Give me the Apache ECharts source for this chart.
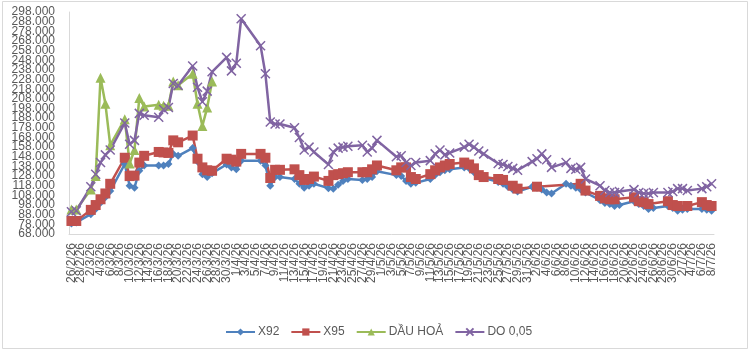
<!DOCTYPE html>
<html>
<head>
<meta charset="utf-8">
<script src="https://cdn.jsdelivr.net/npm/echarts@6/dist/echarts.min.js"></script>
<style>
html,body{margin:0;padding:0;background:#fff;}
#chart{width:750px;height:351px;}
</style>
</head>
<body>
<div id="chart"></div>
<script>
// All calendar days on the axis (labels every other day)
var categories = [
"26/2/26","27/2/26","28/2/26","1/3/26","2/3/26","3/3/26","4/3/26","5/3/26","6/3/26","7/3/26","8/3/26","9/3/26","10/3/26","11/3/26","12/3/26","13/3/26","14/3/26","15/3/26","16/3/26","17/3/26","18/3/26","19/3/26","20/3/26","21/3/26","22/3/26","23/3/26","24/3/26","25/3/26","26/3/26","27/3/26","28/3/26","29/3/26","30/3/26","31/3/26",
"1/4/26","2/4/26","3/4/26","4/4/26","5/4/26","6/4/26","7/4/26","8/4/26","9/4/26","10/4/26","11/4/26","12/4/26","13/4/26","14/4/26","15/4/26","16/4/26","17/4/26","18/4/26","19/4/26","20/4/26","21/4/26","22/4/26","23/4/26","24/4/26","25/4/26","26/4/26","27/4/26","28/4/26","29/4/26","30/4/26",
"1/5/26","2/5/26","3/5/26","4/5/26","5/5/26","6/5/26","7/5/26","8/5/26","9/5/26","10/5/26","11/5/26","12/5/26","13/5/26","14/5/26","15/5/26","16/5/26","17/5/26","18/5/26","19/5/26","20/5/26","21/5/26","22/5/26","23/5/26","24/5/26","25/5/26","26/5/26","27/5/26","28/5/26","29/5/26","30/5/26","31/5/26",
"1/6/26","2/6/26","3/6/26","4/6/26","5/6/26","6/6/26","7/6/26","8/6/26","9/6/26","10/6/26","11/6/26","12/6/26","13/6/26","14/6/26","15/6/26","16/6/26","17/6/26","18/6/26","19/6/26","20/6/26","21/6/26","22/6/26","23/6/26","24/6/26","25/6/26","26/6/26","27/6/26","28/6/26","29/6/26","30/6/26",
"1/7/26","2/7/26","3/7/26","4/7/26","5/7/26","6/7/26","7/7/26","8/7/26"
];

// Days that carry a price
var tradeDays = [
"26/2/26","27/2/26","2/3/26","3/3/26","4/3/26","5/3/26","6/3/26","9/3/26","10/3/26","11/3/26","12/3/26","13/3/26","16/3/26","17/3/26","18/3/26","19/3/26","20/3/26","23/3/26","24/3/26","25/3/26","26/3/26","27/3/26","30/3/26","31/3/26",
"1/4/26","2/4/26","6/4/26","7/4/26","8/4/26","9/4/26","10/4/26","13/4/26","14/4/26","15/4/26","16/4/26","17/4/26","20/4/26","21/4/26","22/4/26","23/4/26","24/4/26","27/4/26","28/4/26","29/4/26","30/4/26",
"4/5/26","5/5/26","6/5/26","7/5/26","8/5/26","11/5/26","12/5/26","13/5/26","14/5/26","15/5/26","18/5/26","19/5/26","20/5/26","21/5/26","22/5/26","25/5/26","26/5/26","27/5/26","28/5/26","29/5/26",
"1/6/26","2/6/26","3/6/26","4/6/26","5/6/26","8/6/26","9/6/26","10/6/26","11/6/26","12/6/26","15/6/26","16/6/26","17/6/26","18/6/26","19/6/26","22/6/26","23/6/26","24/6/26","25/6/26","26/6/26","29/6/26","30/6/26",
"1/7/26","2/7/26","3/7/26","6/7/26","7/7/26","8/7/26"
];

var x92 = [79,80,88.5,94,100.5,106,112.5,140.5,118,116,133.5,139,139,139,140.5,151,149,157,143,130,127,131,140,137,
135,144,144,139,118,127,127,125,120,116,118,120,115.5,115,119,123,125,124,125,127,133,
129,128,123,120,121,125,129,132,134,135,137,136,132,128,126,122,120,117,114,112,
117,116,114,111,110,120,118,116,114,111,103,100,99,97,98,102,99,97,94,95,97,95,
92,93,94,94,93,92];

var x95 = [81.5,81.5,93,98,104,110,120,147,128,128.5,142,149,153,152.5,152,165,163,170,146,137,134,133.5,146,145,
143,151,151,147,126,134.5,134.5,135,129,124,125,127.5,123,129,130,131,132,132,132,135,139,
134,137,137,127,125,130,134,137,139,140.5,142,140,136,129,127,125,124,null,118,115,
null,117,null,null,null,null,null,null,120,113,107.5,105,104,104,null,106,102,101,99,null,102,98,
97,null,97,101,98,97];

var dauHoa = [93.5,93.5,114,128,230,203,160,187,141,155,209,200,202,201,201,226,222,234,203,180,199,226,null,null,
null,null,null,null,null,null,null,null,null,null,null,null,null,null,null,null,null,null,null,null,null,
null,null,null,null,null,null,null,null,null,null,null,null,null,null,null,null,null,null,null,null,
null,null,null,null,null,null,null,null,null,null,null,null,null,null,null,null,null,null,null,null,null,null,
null,null,null,null,null,null];

var do005 = [91,92,117,130,142,150,155,183,161,165,193,191,189,197,199,224,222,242,220,205,216,236,251,237,
245,291,263,234,184,182,182,178,168,155,158,153,140,153,157,158,159,160,153,157,165,
148,149,142,139,142,144,151,155,150,152,158,161,158,154,151,141,140,138,136,134,
143,146,151,145,137,142,136,135,137,125,118,113,111,111,112,114,111,110,110,111,111,112,
115,115,113,115,117,120];

var seriesNames = ["X92","X95","DẦU HOẢ","DO 0,05"];
var yTicks = {min:68, max:298, step:10};

function pairs(vals){
  var out=[];
  for(var k=0;k<tradeDays.length;k++){
    if(vals[k]!==null && vals[k]!==undefined) out.push([tradeDays[k], vals[k]]);
  }
  return out;
}

var font = "'Liberation Sans', Arial, sans-serif";
var txt = '#595959';
var firstCat = categories[0], lastCat = categories[categories.length-1];

var xLabelBase = {interval:1,rotate:90,color:txt,fontSize:12,fontFamily:font,margin:9,hideOverlap:false};
var yLabelBase = {color:txt,fontSize:12,fontFamily:font,margin:14,hideOverlap:false};

var chart = echarts.init(document.getElementById('chart'), null, {renderer:'canvas'});
chart.setOption({
  animation:false,
  backgroundColor:'#ffffff',
  textStyle:{fontFamily:font},
  graphic:[{type:'rect',shape:{x:2.5,y:1.5,width:745,height:347},style:{fill:'none',stroke:'#d9d9d9',lineWidth:1},silent:true,z:-1}],
  grid:{left:69,right:36,top:12,bottom:117,containLabel:false},
  legend:{
    data:seriesNames,
    left:220, top:321,
    itemWidth:29, itemHeight:9, itemGap:11,
    textStyle:{color:txt,fontSize:12,fontFamily:font,padding:[0,0,0,-2]}
  },
  xAxis:[{
    type:'category', position:'bottom',
    data:categories,
    boundaryGap:true,
    axisLine:{show:true,lineStyle:{color:'#d9d9d9',width:1}},
    axisTick:{show:false},
    splitLine:{show:false},
    axisLabel:Object.assign({showMinLabel:false,showMaxLabel:false}, xLabelBase)
  },{
    type:'category', position:'bottom',
    data:categories,
    boundaryGap:true,
    axisLine:{show:false},
    axisTick:{show:false},
    splitLine:{show:false},
    axisLabel:Object.assign({showMinLabel:true,showMaxLabel:true,
      formatter:function(v){return (v===firstCat||v===lastCat)?v:'';}}, xLabelBase)
  }],
  yAxis:[{
    type:'value', position:'left',
    min:yTicks.min,max:yTicks.max,interval:yTicks.step,
    axisLine:{show:true,lineStyle:{color:'#d9d9d9',width:1}},
    axisTick:{show:false},
    splitLine:{show:false},
    axisLabel:Object.assign({showMinLabel:false,showMaxLabel:false,
      formatter:function(v){return v.toFixed(3);}}, yLabelBase)
  },{
    type:'value', position:'left',
    min:yTicks.min,max:yTicks.max,interval:yTicks.step,
    axisLine:{show:false},
    axisTick:{show:false},
    splitLine:{show:false},
    axisLabel:Object.assign({showMinLabel:true,showMaxLabel:true,
      formatter:function(v){return (v===yTicks.min||v===yTicks.max)?v.toFixed(3):'';}}, yLabelBase)
  }],
  series:[
    {name:seriesNames[0],type:'line',data:pairs(x92),symbol:'diamond',symbolSize:8,showAllSymbol:true,
     color:'#4F81BD',lineStyle:{width:2.5,color:'#4F81BD'},itemStyle:{color:'#4F81BD'}},
    {name:seriesNames[1],type:'line',data:pairs(x95),symbol:'rect',symbolSize:10,showAllSymbol:true,
     color:'#C0504D',lineStyle:{width:2.5,color:'#C0504D'},itemStyle:{color:'#C0504D'}},
    {name:seriesNames[2],type:'line',data:pairs(dauHoa),symbol:'triangle',symbolSize:10,showAllSymbol:true,
     color:'#9BBB59',lineStyle:{width:2.5,color:'#9BBB59'},itemStyle:{color:'#9BBB59'}},
    {name:seriesNames[3],type:'line',data:pairs(do005),symbol:'path://M0,0L10,10M10,0L0,10',symbolSize:9,showAllSymbol:true,
     color:'#8064A2',lineStyle:{width:2.5,color:'#8064A2'},itemStyle:{color:'#8064A2',borderColor:'#8064A2',borderWidth:1.5}}
  ]
});
</script>
</body>
</html>
